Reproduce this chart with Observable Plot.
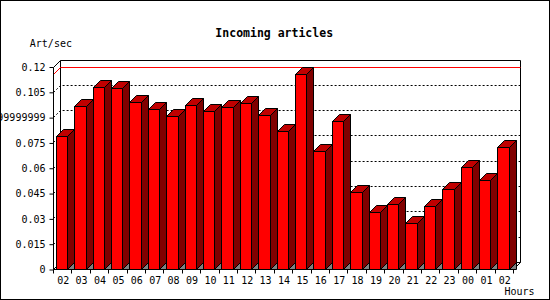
<!DOCTYPE html>
<html><head><meta charset="utf-8">
<script src="https://cdn.jsdelivr.net/npm/d3@7"></script>
<script src="https://cdn.jsdelivr.net/npm/@observablehq/plot@0.6"></script>
<style>
html,body{margin:0;padding:0;background:#fff;}
#chart svg{display:block;outline:1px solid #000;outline-offset:-1px;}
</style></head><body><div id="chart"></div>
<script>
const title = "Incoming articles";
const yLabel = "Art/sec";
const xLabel = "Hours";
const hours = ["02","03","04","05","06","07","08","09","10","11","12","13","14","15","16","17","18","19","20","21","22","23","00","01","02"];
const rates = [0.0791,0.0967,0.1081,0.1074,0.0991,0.0951,0.0908,0.0973,0.0937,0.0961,0.0985,0.0914,0.0819,0.1157,0.0698,0.0878,0.0457,0.0339,0.0386,0.0274,0.0375,0.0475,0.0606,0.0529,0.0724];
const yTicks = [0,0.015,0.03,0.045,0.06,0.075,0.09,0.105,0.12];
const yTickLabels = ["0","0.015","0.03","0.045","0.06","0.075","0.0899999999","0.105","0.12"];

const data = rates.map((v, i) => ({i, v}));
const D = 7;                       // 3D depth in px
const snap = v => Math.floor(v) + 0.5;
const FONT = "'DejaVu Sans Mono', monospace";

function frameRender(index, scales, values, dims) {
  const x0 = snap(dims.marginLeft), x1 = snap(dims.width - dims.marginRight);
  const yT = snap(scales.y(yTicks[yTicks.length - 1])), y0 = snap(scales.y(0));
  const g = d3.create("svg:g").attr("fill", "none").attr("stroke", "#000");
  g.append("path").attr("d",
    `M${x0},${yT}L${x0 + D},${yT - D}H${x1 + D}V${y0 - D}L${x1},${y0}` +
    `M${x0 + D},${yT - D}V${y0 - D}H${x1 + D}` +
    `M${x0},${y0}L${x0 + D},${y0 - D}`);
  return g.node();
}

function axisLines(index, scales, values, dims) {
  const x0 = snap(dims.marginLeft), x1 = snap(dims.width - dims.marginRight);
  const yT = snap(scales.y(yTicks[yTicks.length - 1])), y0 = snap(scales.y(0));
  const bw = scales.x.bandwidth();
  let d = `M${x0},${yT}V${y0}H${x1}`;
  const xs = d3.range(hours.length).map(k => scales.x(k));
  xs.push(scales.x(hours.length - 1) + bw);
  for (const x of xs) d += `M${snap(x)},${y0}v4`;
  return d3.create("svg:path").attr("d", d).attr("fill", "none").attr("stroke", "#000").node();
}

function gridRender(index, scales, values, dims) {
  const x0 = snap(dims.marginLeft), x1 = snap(dims.width - dims.marginRight);
  const g = d3.create("svg:g").attr("fill", "none").attr("stroke", "#000").attr("stroke-dasharray", "2,2");
  for (const i of index) {
    const y = snap(values.y[i]);
    g.append("path").attr("d", `M${x0},${y}L${x0 + D},${y - D}H${x1 + D}`);
  }
  return g.node();
}

function maxRender(index, scales, values, dims) {
  const x0 = snap(dims.marginLeft), x1 = snap(dims.width - dims.marginRight);
  const g = d3.create("svg:g").attr("fill", "none").attr("stroke", "#ff0000");
  for (const i of index) {
    const y = snap(values.y[i]);
    g.append("path").attr("d", `M${x0},${y}L${x0 + D},${y - D}H${x1 + D}`);
  }
  return g.node();
}

function barsRender(index, scales, values) {
  const bw = scales.x.bandwidth();
  const g = d3.create("svg:g").attr("stroke", "#000").attr("stroke-width", 1);
  for (const i of index) {
    const xs = values.x[i];
    const xl = snap(xs + 0.152 * bw), xr = snap(xs + 0.152 * bw + 0.62 * bw);
    const yt = snap(Math.min(values.y1[i], values.y2[i]));
    const yb = snap(Math.max(values.y1[i], values.y2[i]));
    g.append("polygon").attr("fill", "#800000")
      .attr("points", `${xr},${yt} ${xr + D},${yt - D} ${xr + D},${yb - D} ${xr},${yb}`);
    g.append("polygon").attr("fill", "#808080")
      .attr("points", `${xr},${yb} ${xr + D},${yb - D} ${xr + D},${yb}`);
    g.append("rect").attr("fill", "#ff0000")
      .attr("x", xl).attr("y", yt).attr("width", xr - xl).attr("height", yb - yt);
    g.append("polygon").attr("fill", "#c00000")
      .attr("points", `${xl},${yt} ${xl + D},${yt - D} ${xr + D},${yt - D} ${xr},${yt}`);
  }
  return g.node();
}

const chart = Plot.plot({
  width: 550, height: 300,
  marginLeft: 53.5, marginRight: 36.5, marginTop: 67, marginBottom: 30.5,
  style: {fontFamily: FONT, fontSize: "10px", background: "#fff", color: "#000"},
  x: {type: "band", domain: d3.range(hours.length), padding: 0, round: false, axis: null, label: null},
  y: {domain: [0, 0.12], axis: null, label: null},
  marks: [
    Plot.frame({render: frameRender}),
    Plot.ruleY(yTicks.slice(1, -1), {y: d => d, render: gridRender}),
    Plot.ruleY([d3.max(rates)], {y: d => d, render: maxRender}),
    Plot.barY(data, {x: "i", y: "v", render: barsRender}),
    Plot.frame({render: axisLines}),
    Plot.axisY({ticks: yTicks, tickFormat: d => yTickLabels[yTicks.indexOf(d)], tickSize: 4, tickPadding: 4.5, fontSize: 10, label: null}),
    Plot.axisX(d3.range(hours.length), {tickFormat: i => hours[i], tickSize: 0, tickPadding: 6.4, fontSize: 10, label: null}),
    Plot.text([title], {text: d => d, frameAnchor: "top", dx: -9.8, dy: -38.4, fontWeight: "bold", fontSize: 11.5}),
    Plot.text([yLabel], {text: d => d, frameAnchor: "top-left", textAnchor: "start", dx: -24.2, dy: -27.9, fontSize: 10}),
    Plot.text([xLabel], {text: d => d, frameAnchor: "bottom-right", textAnchor: "start", dx: -9.5, dy: 25, fontSize: 10})
  ]
});
document.getElementById("chart").appendChild(chart);
</script></body></html>
